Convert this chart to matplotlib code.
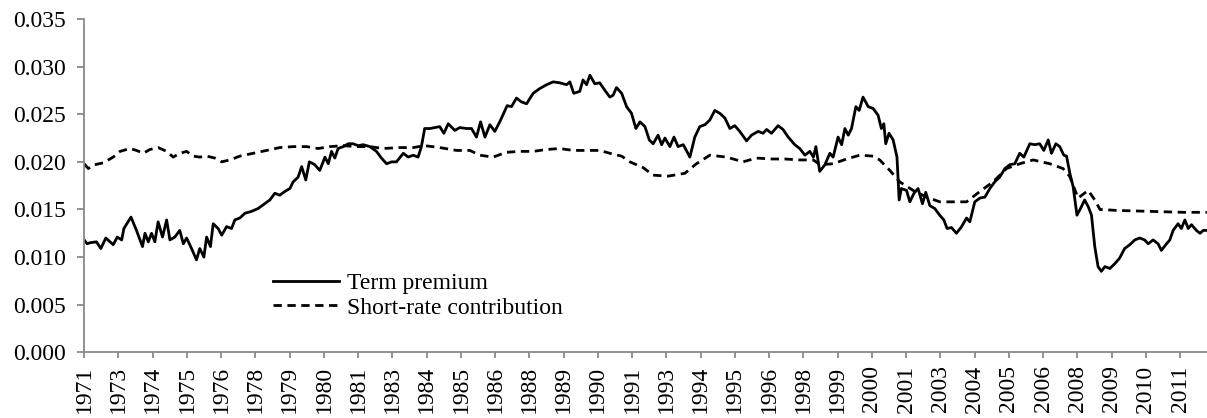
import matplotlib
matplotlib.use("Agg")
import matplotlib.pyplot as plt
from matplotlib.ticker import FormatStrFormatter

# Monthly series start in Nov 1971; x values are in decimal years
START = 1971 + 10 / 12

# Term premium (solid)
term_years = [
    1971.83, 1971.94, 1972.04, 1972.28, 1972.44, 1972.62, 1972.89, 1973.04, 1973.20, 1973.28,
    1973.54, 1973.74, 1973.96, 1974.05, 1974.17, 1974.29, 1974.41, 1974.53, 1974.69, 1974.84,
    1974.96, 1975.14, 1975.32, 1975.45, 1975.57, 1975.75, 1975.93, 1976.05, 1976.20, 1976.30,
    1976.44, 1976.54, 1976.72, 1976.85, 1977.03, 1977.21, 1977.33, 1977.51, 1977.70, 1977.94,
    1978.18, 1978.37, 1978.61, 1978.79, 1978.97, 1979.16, 1979.34, 1979.46, 1979.64, 1979.77,
    1979.92, 1980.05, 1980.25, 1980.43, 1980.62, 1980.74, 1980.86, 1980.98, 1981.10, 1981.29,
    1981.47, 1981.65, 1981.83, 1982.02, 1982.26, 1982.50, 1982.68, 1982.87, 1983.05, 1983.23,
    1983.48, 1983.66, 1983.84, 1984.02, 1984.14, 1984.26, 1984.45, 1984.63, 1984.81, 1984.96,
    1985.12, 1985.36, 1985.54, 1985.79, 1985.97, 1986.15, 1986.30, 1986.46, 1986.64, 1986.82,
    1987.00, 1987.27, 1987.43, 1987.61, 1987.79, 1987.98, 1988.22, 1988.46, 1988.71, 1988.95,
    1989.19, 1989.44, 1989.56, 1989.70, 1989.92, 1990.04, 1990.17, 1990.29, 1990.47, 1990.65,
    1990.84, 1991.02, 1991.14, 1991.26, 1991.45, 1991.63, 1991.81, 1991.97, 1992.12, 1992.30,
    1992.46, 1992.60, 1992.78, 1992.91, 1993.03, 1993.21, 1993.36, 1993.51, 1993.70, 1993.94,
    1994.12, 1994.30, 1994.49, 1994.67, 1994.85, 1995.03, 1995.22, 1995.40, 1995.58, 1995.76,
    1996.01, 1996.19, 1996.43, 1996.61, 1996.74, 1996.92, 1997.16, 1997.34, 1997.53, 1997.77,
    1997.95, 1998.14, 1998.32, 1998.45, 1998.54, 1998.68, 1998.87, 1999.05, 1999.17, 1999.35,
    1999.48, 1999.60, 1999.72, 1999.84, 2000.00, 2000.12, 2000.26, 2000.45, 2000.63, 2000.81,
    2000.93, 2001.02, 2001.09, 2001.21, 2001.36, 2001.50, 2001.58, 2001.66, 2001.85, 2001.97,
    2002.12, 2002.27, 2002.43, 2002.55, 2002.70, 2002.88, 2003.06, 2003.21, 2003.33, 2003.49,
    2003.67, 2003.86, 2004.04, 2004.16, 2004.34, 2004.53, 2004.71, 2004.89, 2005.07, 2005.25,
    2005.44, 2005.62, 2005.80, 2005.98, 2006.13, 2006.35, 2006.53, 2006.71, 2006.86, 2007.02,
    2007.14, 2007.30, 2007.44, 2007.59, 2007.69, 2007.81, 2007.93, 2008.07, 2008.20, 2008.35,
    2008.48, 2008.60, 2008.72, 2008.84, 2008.96, 2009.09, 2009.27, 2009.45, 2009.63, 2009.81,
    2010.00, 2010.18, 2010.36, 2010.54, 2010.67, 2010.85, 2011.03, 2011.15, 2011.34, 2011.46,
    2011.58, 2011.76, 2011.88, 2012.01, 2012.13, 2012.25, 2012.43, 2012.56, 2012.68, 2012.80,
]
term_premium = [
    0.0118, 0.0114, 0.0115, 0.0116, 0.0109, 0.0120, 0.0113, 0.0121, 0.0118, 0.0130,
    0.0142, 0.0128, 0.0111, 0.0125, 0.0116, 0.0125, 0.0116, 0.0137, 0.0121, 0.0139,
    0.0118, 0.0121, 0.0128, 0.0114, 0.0120, 0.0109, 0.0097, 0.0109, 0.0100, 0.0121,
    0.0111, 0.0135, 0.0130, 0.0123, 0.0132, 0.0130, 0.0139, 0.0141, 0.0146, 0.0148,
    0.0151, 0.0155, 0.0160, 0.0167, 0.0165, 0.0169, 0.0172, 0.0179, 0.0184, 0.0195,
    0.0181, 0.0200, 0.0197, 0.0191, 0.0205, 0.0198, 0.0211, 0.0204, 0.0214, 0.0216,
    0.0219, 0.0219, 0.0217, 0.0218, 0.0216, 0.0211, 0.0204, 0.0198, 0.0200, 0.0200,
    0.0209, 0.0205, 0.0207, 0.0205, 0.0216, 0.0235, 0.0235, 0.0236, 0.0237, 0.0230,
    0.0240, 0.0233, 0.0236, 0.0235, 0.0235, 0.0226, 0.0242, 0.0226, 0.0239, 0.0232,
    0.0242, 0.0259, 0.0258, 0.0267, 0.0263, 0.0261, 0.0272, 0.0277, 0.0281, 0.0284,
    0.0283, 0.0281, 0.0284, 0.0272, 0.0274, 0.0286, 0.0281, 0.0291, 0.0282, 0.0283,
    0.0275, 0.0268, 0.0270, 0.0278, 0.0272, 0.0258, 0.0251, 0.0235, 0.0242, 0.0237,
    0.0223, 0.0219, 0.0228, 0.0218, 0.0225, 0.0216, 0.0226, 0.0216, 0.0218, 0.0205,
    0.0226, 0.0237, 0.0239, 0.0244, 0.0254, 0.0251, 0.0246, 0.0235, 0.0238, 0.0232,
    0.0222, 0.0228, 0.0232, 0.0230, 0.0234, 0.0230, 0.0238, 0.0234, 0.0226, 0.0218,
    0.0214, 0.0207, 0.0211, 0.0205, 0.0216, 0.0190, 0.0197, 0.0209, 0.0205, 0.0226,
    0.0218, 0.0235, 0.0228, 0.0235, 0.0258, 0.0254, 0.0268, 0.0258, 0.0256, 0.0249,
    0.0235, 0.0240, 0.0219, 0.0230, 0.0223, 0.0205, 0.0160, 0.0172, 0.0170, 0.0158,
    0.0167, 0.0172, 0.0156, 0.0168, 0.0154, 0.0151, 0.0144, 0.0139, 0.0130, 0.0131,
    0.0125, 0.0132, 0.0141, 0.0137, 0.0158, 0.0162, 0.0163, 0.0172, 0.0179, 0.0184,
    0.0193, 0.0197, 0.0198, 0.0209, 0.0205, 0.0219, 0.0218, 0.0219, 0.0212, 0.0223,
    0.0209, 0.0219, 0.0216, 0.0207, 0.0206, 0.0188, 0.0174, 0.0144, 0.0151, 0.0160,
    0.0153, 0.0144, 0.0111, 0.0090, 0.0085, 0.0090, 0.0088, 0.0093, 0.0099, 0.0109,
    0.0113, 0.0118, 0.0120, 0.0118, 0.0114, 0.0118, 0.0114, 0.0107, 0.0114, 0.0118,
    0.0128, 0.0135, 0.0130, 0.0139, 0.0130, 0.0134, 0.0128, 0.0125, 0.0128, 0.0128,
]

# Short-rate contribution (dashed)
short_years = [
    1971.83, 1971.98, 1972.22, 1972.53, 1972.89, 1973.14, 1973.50, 1973.74, 1973.99, 1974.23,
    1974.53, 1974.84, 1975.08, 1975.32, 1975.57, 1975.81, 1976.05, 1976.30, 1976.60, 1976.85,
    1977.15, 1977.51, 1978.00, 1978.49, 1978.97, 1979.46, 1979.95, 1980.37, 1980.80, 1981.29,
    1981.77, 1982.26, 1982.74, 1983.35, 1983.84, 1984.26, 1984.81, 1985.42, 1985.91, 1986.27,
    1986.76, 1987.24, 1987.73, 1988.22, 1988.71, 1989.19, 1989.68, 1990.17, 1990.65, 1991.14,
    1991.45, 1991.75, 1992.23, 1992.60, 1993.15, 1993.76, 1994.18, 1994.67, 1995.28, 1995.88,
    1996.37, 1996.92, 1997.40, 1997.95, 1998.45, 1998.68, 1999.17, 1999.66, 2000.14, 2000.63,
    2000.87, 2001.24, 2001.60, 2002.09, 2002.58, 2003.06, 2003.55, 2004.04, 2004.53, 2005.01,
    2005.50, 2005.98, 2006.47, 2007.08, 2007.56, 2007.80, 2008.11, 2008.48, 2008.72, 2008.91,
    2009.51, 2010.73, 2011.94, 2012.81,
]
short_rate = [
    0.0198, 0.0193, 0.0197, 0.0199, 0.0205, 0.0211, 0.0214, 0.0212, 0.0209, 0.0213,
    0.0215, 0.0211, 0.0205, 0.0209, 0.0211, 0.0206, 0.0205, 0.0206, 0.0204, 0.0200,
    0.0202, 0.0206, 0.0209, 0.0212, 0.0215, 0.0216, 0.0216, 0.0214, 0.0216, 0.0217,
    0.0216, 0.0216, 0.0214, 0.0215, 0.0215, 0.0217, 0.0215, 0.0212, 0.0212, 0.0207,
    0.0205, 0.0210, 0.0211, 0.0211, 0.0213, 0.0214, 0.0212, 0.0212, 0.0212, 0.0208,
    0.0206, 0.0200, 0.0194, 0.0186, 0.0185, 0.0188, 0.0198, 0.0207, 0.0205, 0.0200,
    0.0204, 0.0203, 0.0203, 0.0202, 0.0202, 0.0197, 0.0198, 0.0203, 0.0207, 0.0206,
    0.0202, 0.0191, 0.0179, 0.0170, 0.0163, 0.0158, 0.0158, 0.0158, 0.0169, 0.0179,
    0.0193, 0.0198, 0.0202, 0.0198, 0.0193, 0.0185, 0.0162, 0.0170, 0.0160, 0.0150,
    0.0149, 0.0148, 0.0147, 0.0147,
]

# Excel-style category labels, one every 15 months
tick_labels = [
    "1971", "1973", "1974", "1975", "1976", "1978", "1979", "1980", "1981", "1983",
    "1984", "1985", "1986", "1988", "1989", "1990", "1991", "1993", "1994", "1995",
    "1996", "1998", "1999", "2000", "2001", "2003", "2004", "2005", "2006", "2008",
    "2009", "2010", "2011",
]
y_ticks = [0.000, 0.005, 0.010, 0.015, 0.020, 0.025, 0.030, 0.035]

plt.rcParams["font.family"] = ["Liberation Serif", "DejaVu Serif"]
plt.rcParams["font.size"] = 17

AXIS_GREY = "#898989"

fig = plt.figure(figsize=(12.07, 4.18), dpi=100)
ax = fig.add_axes([0.0698, 0.1572, 0.9302, 0.7973])

ax.plot(term_years, term_premium, color="black", lw=2.0, label="Term premium")
ax.plot(short_years, short_rate, color="black", lw=2.0, linestyle=(0, (3, 2)),
        label="Short-rate contribution")

ax.set_xlim(START, START + 491.8 / 12)
ax.set_ylim(0, 0.035)
ax.set_yticks(y_ticks)
ax.yaxis.set_major_formatter(FormatStrFormatter("%.3f"))
ax.set_xticks([START + 1.25 * k for k in range(len(tick_labels))])
ax.set_xticklabels(tick_labels, rotation=90)

for side in ["top", "right"]:
    ax.spines[side].set_visible(False)
for side in ["left", "bottom"]:
    ax.spines[side].set_color(AXIS_GREY)
    ax.spines[side].set_linewidth(1.3)
ax.tick_params(axis="y", direction="out", length=5, width=1.3, color=AXIS_GREY, pad=8)
ax.tick_params(axis="x", direction="out", length=4.5, width=1.3, color=AXIS_GREY, pad=5)

ax.legend(loc="center left", bbox_to_anchor=(0.168, 0.17), frameon=False,
          borderpad=0, borderaxespad=0, handlelength=2.8, handletextpad=0.35,
          labelspacing=0.12)

fig.savefig("out.png", dpi=100)
